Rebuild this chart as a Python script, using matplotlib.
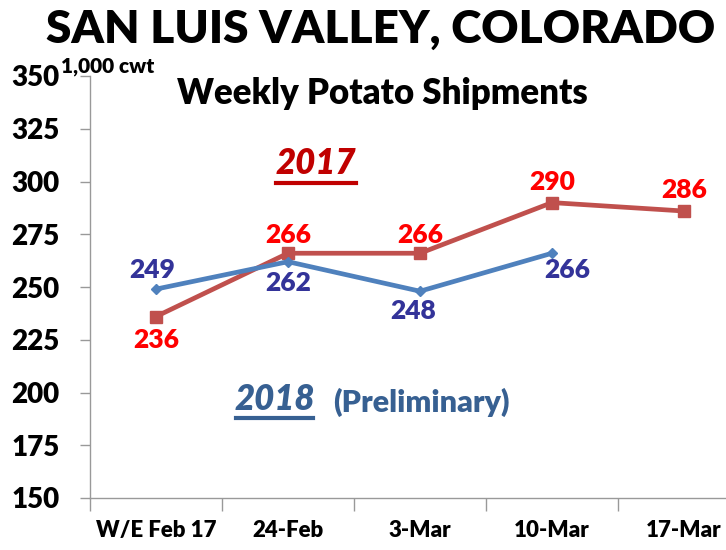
import matplotlib
matplotlib.use("Agg")
import matplotlib.pyplot as plt

categories = ["W/E Feb 17", "24-Feb", "3-Mar", "10-Mar", "17-Mar"]
y2017 = [236, 266, 266, 290, 286]
y2018 = [249, 262, 248, 266]
yticks = [150, 175, 200, 225, 250, 275, 300, 325, 350]

FONT = "Lato"
plt.rcParams["font.family"] = [FONT, "DejaVu Sans"]

fig = plt.figure(figsize=(7.26, 5.5), dpi=100)
ax = fig.add_axes([90/726, 1-498/550, 660/726, (498-76)/550])

x17 = list(range(len(y2017)))
x18 = list(range(len(y2018)))
ax.plot(x17, y2017, color="#C0504D", lw=3.4, marker="s", ms=8.5, zorder=3, clip_on=False)
ax.plot(x18, y2018, color="#4F81BD", lw=3.4, marker="D", ms=5.5, zorder=4, clip_on=False)

ax.set_xlim(-0.5, 4.5)
ax.set_ylim(150, 350)
ax.set_yticks(yticks)
ax.set_yticklabels([str(v) for v in yticks], fontsize=20, fontweight="heavy")
ax.set_xticks(range(len(categories)))
ax.set_xticklabels(categories, fontsize=16, fontweight="heavy")
ax.tick_params(axis="x", length=0, pad=16)
ax.set_xticks([i - 0.5 for i in range(len(categories) + 1)], minor=True)
ax.tick_params(axis="x", which="minor", length=9, color="#999999", width=1)
ax.tick_params(axis="y", length=7, color="#999999", width=1, pad=15)
for s in ["top", "right"]:
    ax.spines[s].set_visible(False)
for s in ["left", "bottom"]:
    ax.spines[s].set_color("#999999")
    ax.spines[s].set_linewidth(1)

off17 = [(0, -17), (0, 13), (0, 13), (0, 15), (0, 15)]
for xi, v, o in zip(x17, y2017, off17):
    ax.annotate(str(v), (xi, v), xytext=o, textcoords="offset points",
                ha="center", va="center", color="#FF0000", fontsize=19, fontweight="heavy")
off18 = [(-3, 14), (0, -15), (-5, -14), (11, -12)]
for xi, v, o in zip(x18, y2018, off18):
    ax.annotate(str(v), (xi, v), xytext=o, textcoords="offset points",
                ha="center", va="center", color="#333399", fontsize=19, fontweight="heavy")

fig.text(381/726, 1-30/550, "SAN LUIS VALLEY, COLORADO", ha="center", va="center",
         fontsize=33, fontweight="heavy", color="black")
fig.text(382/726, 1-93/550, "Weekly Potato Shipments", ha="center", va="center",
         fontsize=25, fontweight="heavy", color="black")
fig.text(108/726, 1-66/550, "1,000 cwt", ha="center", va="center",
         fontsize=15, fontweight="heavy", color="black")
fig.text(316/726, 1-163/550, "2017", ha="center", va="center",
         fontsize=25, fontweight="heavy", style="italic", color="#C00000")
fig.add_artist(plt.Line2D([276/726, 356/726], [1-183/550, 1-183/550], color="#C00000", lw=3))
fig.text(275/726, 1-400/550, "2018", ha="center", va="center",
         fontsize=25, fontweight="heavy", style="italic", color="#376092")
fig.add_artist(plt.Line2D([236/726, 313/726], [1-418/550, 1-418/550], color="#376092", lw=3))
fig.text(421/726, 1-402/550, "(Preliminary)", ha="center", va="center",
         fontsize=22, fontweight="heavy", color="#376092")

fig.savefig("out.png", dpi=100)
